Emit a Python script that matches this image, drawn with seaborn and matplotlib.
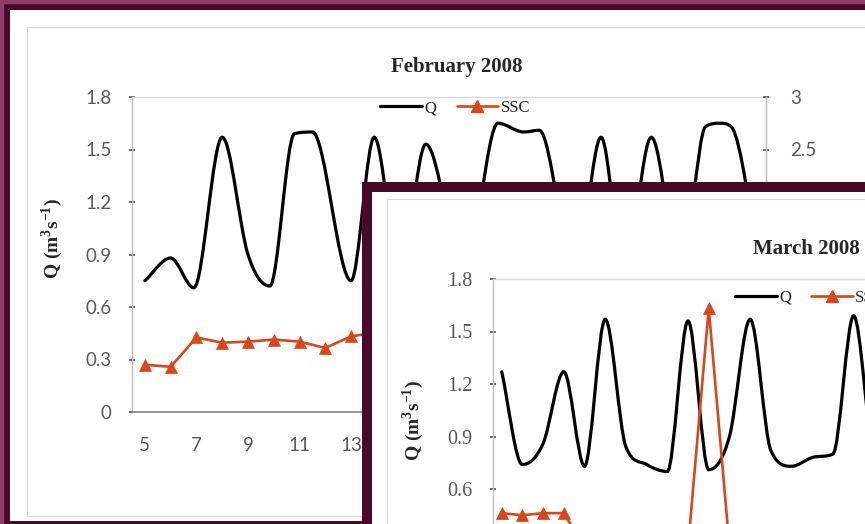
import numpy as np
import matplotlib
matplotlib.use("Agg")
from matplotlib import pyplot as plt
from matplotlib.path import Path
from matplotlib.patches import PathPatch, Rectangle
from matplotlib.lines import Line2D
import seaborn as sns

# February 2008 discharge (Q), day of month
feb_q_day = [5.0, 6.0, 6.9, 8.0, 9.0, 9.85, 10.8, 11.5, 13.0, 13.9, 14.9, 15.9, 17.4,
             18.7, 19.7, 20.3, 21.7, 22.7, 23.6, 24.65, 25.8, 26.75, 27.3, 27.75, 28.9]
feb_q = [0.75, 0.88, 0.71, 1.57, 0.90, 0.72, 1.59, 1.60, 0.75, 1.57, 0.80, 1.53, 0.80,
         1.65, 1.60, 1.61, 0.80, 1.57, 0.80, 1.57, 0.80, 1.63, 1.65, 1.63, 0.80]
# February SSC (right axis)
feb_ssc_day = [5, 6, 7, 8, 9, 10, 11, 12, 13, 14, 15]
feb_ssc = [0.45, 0.43, 0.71, 0.66, 0.67, 0.69, 0.67, 0.61, 0.72, 0.76, 0.78]

# March 2008
mar_q_day = list(range(1, 21))
mar_q = [1.27, 0.74, 0.86, 1.27, 0.73, 1.57, 0.84, 0.74, 0.70, 1.56,
         0.71, 0.90, 1.57, 0.82, 0.73, 0.78, 0.80, 1.59, 0.80, 0.75]
mar_ssc_day = list(range(1, 14))
mar_ssc = [0.77, 0.75, 0.77, 0.77, 0.45, 0.42, 0.42, 0.42, 0.42, 0.45, 2.72, 0.45, 0.42]

q_ticks = [0, 0.3, 0.6, 0.9, 1.2, 1.5, 1.8]
q_labels = ["0", "0.3", "0.6", "0.9", "1.2", "1.5", "1.8"]
ssc_ticks = [0, 0.5, 1, 1.5, 2, 2.5, 3]
ssc_labels = ["0", "0.5", "1", "1.5", "2", "2.5", "3"]
feb_xticks = list(range(5, 30, 2))
mar_xticks = list(range(1, 32, 2))

sns.set_theme(style="white")
plt.rcParams["mathtext.fontset"] = "custom"
plt.rcParams["mathtext.rm"] = "Liberation Serif"
plt.rcParams["mathtext.bf"] = "Liberation Serif:bold"

W, H = 865, 524
DARK = "#470b28"
LIGHT = "#8e3e68"
RED = "#d8461b"
GREY = "#595959"

fig = plt.figure(figsize=(W / 100, H / 100), dpi=100, facecolor=DARK)


def frac(x0, y0, x1, y1):
    return [x0 / W, 1 - y1 / H, (x1 - x0) / W, (y1 - y0) / H]


def block(x0, y0, x1, y1, color, z, edge=None):
    a = fig.add_axes(frac(x0, y0, x1, y1), zorder=z)
    a.set_facecolor(color)
    a.set_xticks([])
    a.set_yticks([])
    for s in a.spines.values():
        s.set_visible(edge is not None)
        if edge:
            s.set_edgecolor(edge)
            s.set_linewidth(0.8)
    return a


def smooth_path(xs, ys):
    # smoothed line like the spreadsheet's: cubic Bezier through each point,
    # flat at peaks/troughs and clamped so nothing overshoots
    x = np.asarray(xs, float)
    y = np.asarray(ys, float)
    h = np.diff(x)
    d = np.diff(y) / h
    m = np.zeros_like(y)
    m[0], m[-1] = d[0], d[-1]
    for k in range(1, len(y) - 1):
        if d[k - 1] * d[k] > 0:
            c = (y[k + 1] - y[k - 1]) / (x[k + 1] - x[k - 1])
            lim = 3 * min(abs(d[k - 1]), abs(d[k]))
            m[k] = np.sign(c) * min(abs(c), lim)
    verts = [(x[0], y[0])]
    codes = [Path.MOVETO]
    for k in range(len(y) - 1):
        verts += [(x[k] + h[k] / 3, y[k] + m[k] * h[k] / 3),
                  (x[k + 1] - h[k] / 3, y[k + 1] - m[k + 1] * h[k] / 3),
                  (x[k + 1], y[k + 1])]
        codes += [Path.CURVE4] * 3
    return Path(verts, codes)


def panel(x0, y0, z, qd, q, sd, s, xlim, xticks, title, title_x, leg_xy, tick_font, tick_size):
    ax = fig.add_axes(frac(x0 + 132, y0 + 97, x0 + 766, y0 + 412), zorder=z)
    ax.patch.set_visible(False)
    ax.set_xlim(*xlim)
    ax.set_ylim(0, 1.8)
    ax.add_patch(PathPatch(smooth_path(qd, q), fill=False, edgecolor="black",
                           lw=2.3, transform=ax.transData, capstyle="round"))
    ax.set_yticks(q_ticks)
    ax.set_yticklabels(q_labels)
    ax.set_xticks(xticks)
    ax.set_xticklabels([str(t) for t in xticks])
    ax.set_xticks(np.arange(np.floor(xlim[0]), xlim[1], 1.0) + 0.5, minor=True)
    ax.tick_params(axis="x", which="major", length=0, pad=18, colors=GREY)
    ax.tick_params(axis="x", which="minor", length=6, direction="inout", color="#999999", width=0.8)
    ax.tick_params(axis="y", which="major", length=5, direction="inout", pad=12,
                   colors=GREY, left=True)
    for lab in ax.get_xticklabels() + ax.get_yticklabels():
        lab.set_fontfamily(tick_font)
        lab.set_fontsize(tick_size)
    for k, sp in ax.spines.items():
        sp.set_linewidth(1.0)
        sp.set_edgecolor("#d9d9d9")
    ax.spines["left"].set_edgecolor("#bfbfbf")
    ax.spines["bottom"].set_edgecolor("#8c8c8c")
    ax.spines["bottom"].set_linewidth(1.3)
    ax.set_ylabel("Q (m$^\\mathbf{3}$s$^\\mathbf{-1}$)", fontfamily="Liberation Serif",
                  fontweight="bold", fontsize=14, color="#262626")
    ax.yaxis.set_label_coords(-0.106, 0.55)
    ax.text(title_x, 1 + 30 / 315, title, transform=ax.transAxes, ha="center", va="center",
            fontfamily="Liberation Serif", fontweight="bold", fontsize=15, color="#262626")

    ax2 = ax.twinx()
    ax2.set_zorder(z + 0.05)
    ax2.patch.set_visible(False)
    sns.lineplot(x=sd, y=s, ax=ax2, color=RED, lw=1.9, marker="^", markersize=9,
                 markeredgecolor=RED, markeredgewidth=0.5)
    ax2.set_xlim(*xlim)
    ax2.set_ylim(0, 3)
    ax2.set_ylabel("")
    ax2.set_yticks(ssc_ticks)
    ax2.set_yticklabels(ssc_labels)
    ax2.tick_params(axis="y", length=5, direction="inout", pad=15, colors=GREY, right=True)
    for lab in ax2.get_yticklabels():
        lab.set_fontfamily(tick_font)
        lab.set_fontsize(tick_size)
    for k, sp in ax2.spines.items():
        sp.set_visible(k == "right")
    ax2.spines["right"].set_edgecolor("#bfbfbf")
    ax2.spines["right"].set_linewidth(1.0)

    handles = [Line2D([], [], color="black", lw=2.3),
               Line2D([], [], color=RED, lw=1.9, marker="^", markersize=8)]
    ax2.legend(handles, ["Q", "SSC"], loc="center", bbox_to_anchor=leg_xy, ncol=2,
               frameon=False, handlelength=2.5, handletextpad=0.15, columnspacing=1.2,
               prop={"family": "Liberation Serif", "size": 12})
    return ax, ax2


# February card
block(10, 10, 1100, 521, "white", 1)
block(27, 27, 1100, 516, "none", 1.1, edge="#d9d9d9")
panel(0, 0, 2, feb_q_day, feb_q, feb_ssc_day, feb_ssc, (4.5, 29.1), feb_xticks,
      "February 2008", 0.513, (0.51, 0.965), "Lato", 13.5)

# March card on top
block(362, 182, 1500, 900, DARK, 4)
block(372, 192, 1500, 900, "white", 4.1)
block(387, 199, 1500, 900, "none", 4.2, edge="#d9d9d9")
panel(361, 182, 5, mar_q_day, mar_q, mar_ssc_day, mar_ssc, (0.58, 31.2), mar_xticks,
      "March 2008", 0.494, (0.5, 0.94), "Liberation Serif", 14.5)

# light outer frame edge
fig.add_artist(Rectangle((0, 1 - 3 / H), 1, 3 / H, transform=fig.transFigure,
                         color=LIGHT, zorder=10))
fig.add_artist(Rectangle((0, 0), 3 / W, 1, transform=fig.transFigure,
                         color=LIGHT, zorder=10))

fig.savefig("out.png", dpi=100, facecolor=DARK)
